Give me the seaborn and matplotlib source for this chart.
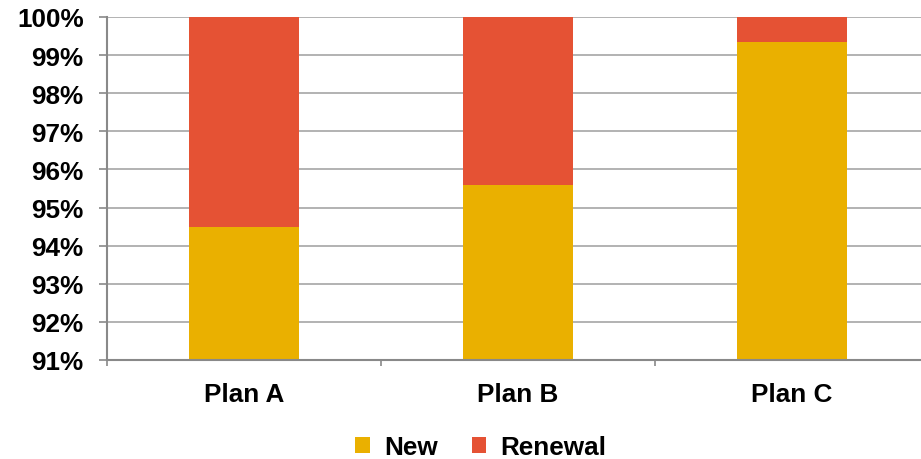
import matplotlib
matplotlib.use("Agg")
import matplotlib.pyplot as plt
from matplotlib.patches import Patch
import seaborn as sns
import pandas as pd

plans = ["Plan A", "Plan B", "Plan C"]
new_pct = [94.5, 95.6, 99.35]
renewal_pct = [5.5, 4.4, 0.65]
y_ticks = [91, 92, 93, 94, 95, 96, 97, 98, 99, 100]
series_names = ["New", "Renewal"]
colors = {"New": "#EAB000", "Renewal": "#E55234"}

sns.set_theme(style="white")
plt.rcParams["font.family"] = ["Liberation Sans", "DejaVu Sans"]
plt.rcParams["font.weight"] = "bold"
plt.rcParams["text.color"] = "black"

FS = 18.8

df = pd.DataFrame({"plan": plans, "new": new_pct, "renewal": renewal_pct})
df["total"] = df["new"] + df["renewal"]

fig = plt.figure(figsize=(9.21, 4.60), dpi=100)
ax = fig.add_axes([107 / 921, 1 - 361 / 460, 822 / 921, (361 - 18) / 460])

# stacked bars: full height in renewal colour, new share drawn over it
sns.barplot(data=df, x="plan", y="total", color=colors["Renewal"], width=0.4,
            saturation=1, ax=ax, zorder=2)
sns.barplot(data=df, x="plan", y="new", color=colors["New"], width=0.4,
            saturation=1, ax=ax, zorder=3)
for p in ax.patches:
    p.set_linewidth(0)

ax.set_xlim(-0.5, 2.5)
ax.set_ylim(91, 100)
ax.set_yticks(y_ticks)
ax.set_yticklabels([f"{v}%" for v in y_ticks], fontsize=FS, fontweight="bold")
ax.set_xticks(range(len(plans)))
ax.set_xticklabels(plans, fontsize=FS, fontweight="bold")
ax.set_xticks([-0.5, 0.5, 1.5, 2.5], minor=True)
ax.set_xlabel("")
ax.set_ylabel("")

ax.yaxis.grid(True, color="#A6A6A6", linewidth=1.2, zorder=0)
ax.xaxis.grid(False)
ax.set_axisbelow(True)

for side in ["top", "right"]:
    ax.spines[side].set_visible(False)
for side in ["left", "bottom"]:
    ax.spines[side].set_color("#898989")
    ax.spines[side].set_linewidth(1.5)
    ax.spines[side].set_zorder(4)

ax.tick_params(axis="y", which="major", length=5.8, width=1.2, color="#898989",
               pad=11, labelcolor="black", left=True)
ax.tick_params(axis="x", which="major", length=0, pad=16, labelcolor="black")
ax.tick_params(axis="x", which="minor", length=4, width=1.2, color="#898989",
               bottom=True)

handles = [Patch(facecolor=colors[n], edgecolor="none", label=n) for n in series_names]
leg = fig.legend(handles=handles, loc="center", bbox_to_anchor=(0.522, 0.026),
                 ncol=2, frameon=False, prop={"size": FS, "weight": "bold"},
                 handlelength=0.56, handleheight=0.56, handletextpad=0.55,
                 columnspacing=1.3, labelcolor="black")

fig.savefig("out.png", dpi=100)
